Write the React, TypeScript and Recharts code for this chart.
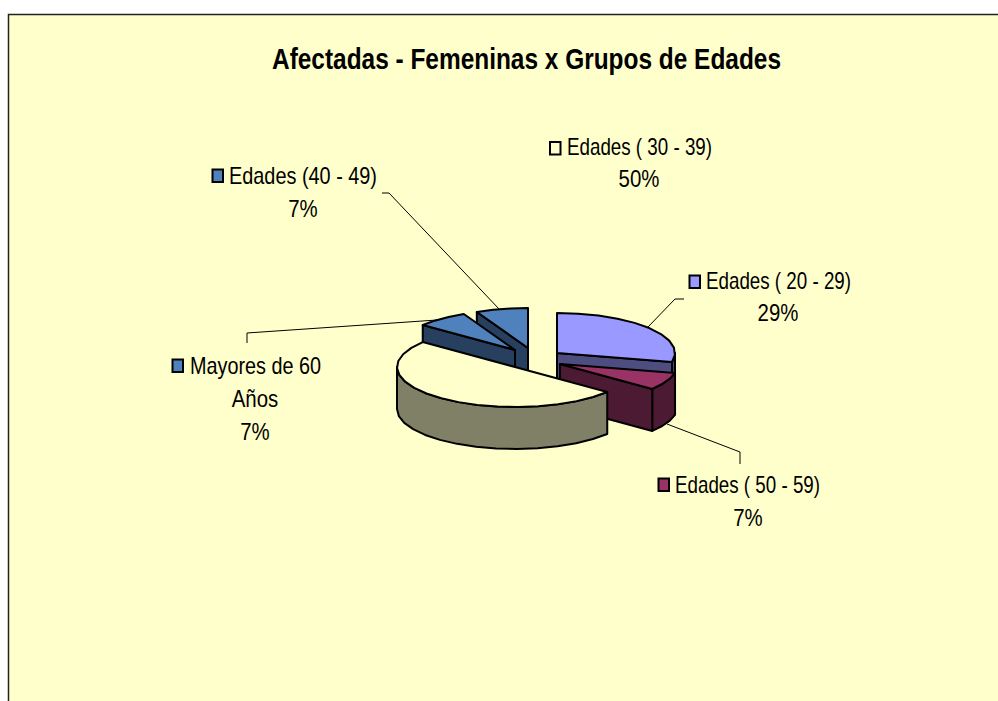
import React from "react";
import { PieChart, Pie } from "recharts";

const categories = [
  "Edades ( 20 - 29)",
  "Edades ( 50 - 59)",
  "Edades ( 30 - 39)",
  "Mayores de 60 Años",
  "Edades (40 - 49)",
];
const values = [4, 1, 7, 1, 1];
const topColors = ["#9999FF", "#993366", "#FFFFCC", "#4F81BD", "#4F81BD"];
const sideColors = ["#4D4D80", "#4D1A33", "#808066", "#284060", "#284060"];
const titleText = "Afectadas - Femeninas x Grupos de Edades";

// painter's order of the slices, back to front
const drawOrder = [4, 3, 0, 1, 2];
// how far each slice is pulled out of the pie
const explode = [
  [42, -14],
  [45, -3],
  [0, 0],
  [0, -17],
  [13, -19],
];
// label layout per slice
const labelLayout = [
  { key: [689.5, 275.5], width: 145, lines: [[706, 289]], pct: [778, 321], leader: "684,299 675,299 648,327" },
  { key: [658.5, 478.5], width: 145, lines: [[675, 493]], pct: [748, 526], leader: "667,424 740,452 740,464" },
  { key: [550, 142], width: 145, lines: [[567, 155]], pct: [639, 187], leader: "" },
  { key: [172.5, 359.5], width: 131, lines: [[190, 374], [255, 407]], pct: [255, 440], leader: "437,320 247,333 247,343" },
  { key: [212.5, 169.5], width: 148, lines: [[229, 184]], pct: [303, 217], leader: "382,193 389,193 500,310" },
];

const data = categories.map((name, i) => ({ name, value: values[i] }));

const SQUASH = 40 / 118;
const DEPTH = 42;
const STEP = 10;
const TEXT_SQUEEZE = 0.85;
const rad = (d: number) => (d * Math.PI) / 180;

function SliceShape(props: any, layer: number) {
  const slice = categories.indexOf(props.payload?.name ?? props.name);
  if (slice !== layer) return <g />;
  const [dx, dy] = explode[slice];
  const cx = props.cx + dx;
  const cy = props.cy + dy;
  const r = props.outerRadius;
  const a = 90 - props.startAngle;
  const b = 90 - props.endAngle;
  const pt = (t: number, down = 0): [number, number] => [
    cx + r * Math.sin(rad(t)),
    cy - r * SQUASH * Math.cos(rad(t)) + down,
  ];
  const arc = (from: number, to: number, down = 0) => {
    const n = Math.max(1, Math.round((to - from) / STEP));
    const out: [number, number][] = [];
    for (let i = 0; i <= n; i++) out.push(pt(from + ((to - from) * i) / n, down));
    return out;
  };
  const poly = (p: [number, number][]) => p.map((q) => q.join(",")).join(" ");
  const apex: [number, number] = [cx, cy];
  const apexDown: [number, number] = [cx, cy + DEPTH];
  const faces: [number, number][][] = [];
  if (Math.sin(rad(a)) < 0) faces.push([apex, pt(a), pt(a, DEPTH), apexDown]);
  const from = Math.max(a, 90);
  const to = Math.min(b, 270);
  if (to > from) faces.push([...arc(from, to), ...arc(from, to, DEPTH).reverse()]);
  if (Math.sin(rad(b)) > 1e-6) faces.push([apex, pt(b), pt(b, DEPTH), apexDown]);
  return (
    <g>
      {faces.map((f, i) => (
        <polygon key={i} points={poly(f)} fill={sideColors[slice]} stroke="#000" strokeWidth={2} strokeLinejoin="round" />
      ))}
      <polygon points={poly([apex, ...arc(a, b)])} fill={topColors[slice]} stroke="#000" strokeWidth={2} strokeLinejoin="round" />
    </g>
  );
}

const textStyle = { fontFamily: "Liberation Sans", fontSize: 24, fill: "#000" };

function SliceLabel(props: any) {
  const i = categories.indexOf(props.payload?.name ?? props.name);
  if (i < 0) return <g />;
  const l = labelLayout[i];
  const pct = `${Math.round(props.percent * 100)}%`;
  const name = categories[i];
  const texts = l.lines.length > 1 ? ["Mayores de 60", "Años"] : [name];
  return (
    <g>
      {l.leader && <polyline points={l.leader} fill="none" stroke="#000" strokeWidth={1} />}
      <rect x={l.key[0]} y={l.key[1]} width={10.5} height={12.5} fill={topColors[i]} stroke="#000" strokeWidth={2} />
      {texts.map((t, k) =>
        k === 0 ? (
          <text key={k} x={l.lines[k][0]} y={l.lines[k][1]} textLength={l.width} lengthAdjust="spacingAndGlyphs" style={textStyle}>
            {t}
          </text>
        ) : (
          <text
            key={k}
            textAnchor="middle"
            transform={`translate(${l.lines[k][0]},${l.lines[k][1]}) scale(${TEXT_SQUEEZE},1)`}
            style={textStyle}
          >
            {t}
          </text>
        )
      )}
      <text textAnchor="middle" transform={`translate(${l.pct[0]},${l.pct[1]}) scale(${TEXT_SQUEEZE},1)`} style={textStyle}>
        {pct}
      </text>
    </g>
  );
}

export default function App() {
  return (
    <div style={{ position: "absolute", left: 0, top: 0, width: 998, height: 701, overflow: "hidden", background: "#fff" }}>
      <PieChart width={998} height={701} margin={{ top: 0, right: 0, bottom: 0, left: 0 }}>
        <rect x={8.5} y={14.5} width={1100} height={800} fill="#FFFFCC" stroke="#222" strokeWidth={1.5} />
        <text
          x={272}
          y={69}
          textLength={509}
          lengthAdjust="spacingAndGlyphs"
          style={{ fontFamily: "Liberation Sans", fontSize: 30, fontWeight: 700, fill: "#000" }}
        >
          {titleText}
        </text>
        {drawOrder.map((layer, n) => (
          <Pie
            key={layer}
            data={data}
            dataKey="value"
            nameKey="name"
            cx={515}
            cy={367}
            innerRadius={0}
            outerRadius={118}
            startAngle={90}
            endAngle={-270}
            isAnimationActive={false}
            rootTabIndex={-1}
            shape={(p: any) => SliceShape(p, layer)}
            label={n === drawOrder.length - 1 ? SliceLabel : false}
            labelLine={false}
          />
        ))}
      </PieChart>
    </div>
  );
}
